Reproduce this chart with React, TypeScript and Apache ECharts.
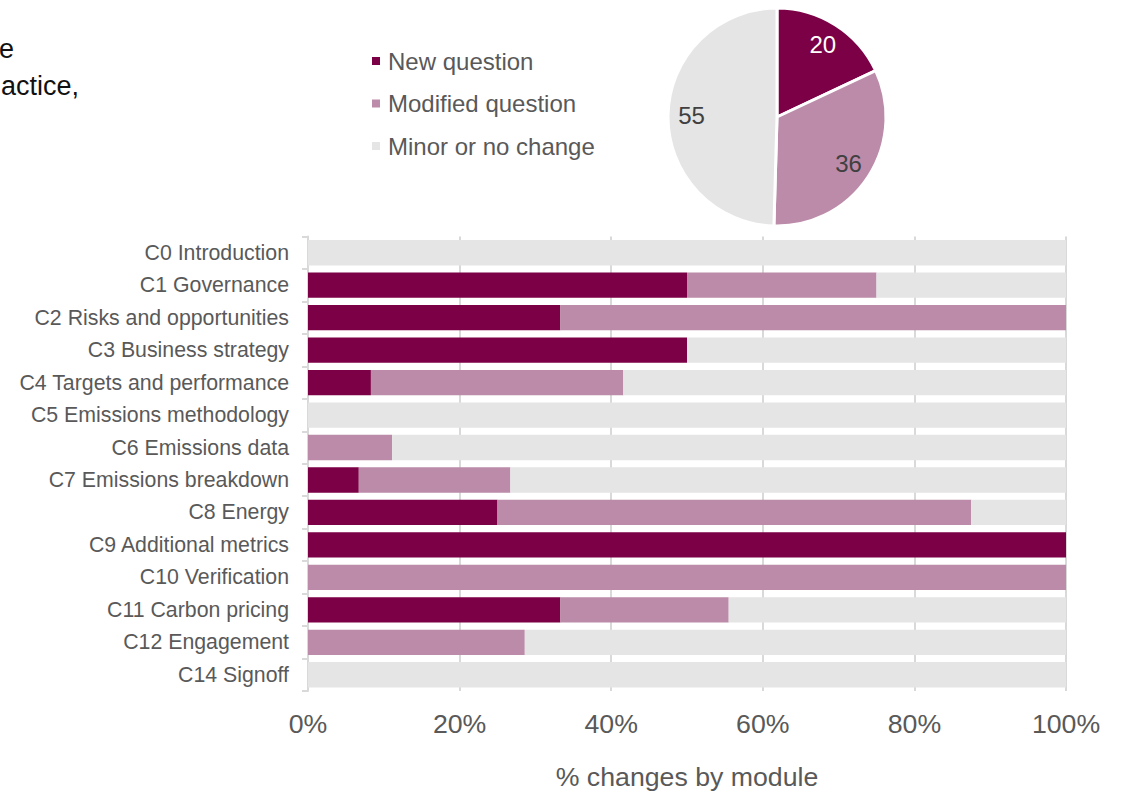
import React, { useEffect, useRef } from "react";
import * as echarts from "echarts";

const modules = [
  "C0 Introduction",
  "C1 Governance",
  "C2 Risks and opportunities",
  "C3 Business strategy",
  "C4 Targets and performance",
  "C5 Emissions methodology",
  "C6 Emissions data",
  "C7 Emissions breakdown",
  "C8 Energy",
  "C9 Additional metrics",
  "C10 Verification",
  "C11 Carbon pricing",
  "C12 Engagement",
  "C14 Signoff",
];
const newPct = [0, 50, 33.3, 50, 8.3, 0, 0, 6.7, 25, 100, 0, 33.3, 0, 0];
const modifiedPct = [0, 25, 66.7, 0, 33.3, 0, 11.1, 20, 62.5, 0, 100, 22.2, 28.6, 0];
const minorPct = [100, 25, 0, 50, 58.4, 100, 88.9, 73.3, 12.5, 0, 0, 44.5, 71.4, 100];

const seriesNames = ["New question", "Modified question", "Minor or no change"];
const pieCounts = [20, 36, 55];
const xTicks = [0, 20, 40, 60, 80, 100];

const colors = ["#7b0045", "#bb8ba9", "#e5e5e5"];
const pieLabelColors = ["#ffffff", "#404040", "#404040"];
const FONT = "'Liberation Sans', Arial, sans-serif";

export default function App() {
  const ref = useRef<HTMLDivElement>(null);
  useEffect(() => {
    if (!ref.current) return;
    const chart = echarts.init(ref.current, null, { renderer: "svg" });
    const barData = [newPct, modifiedPct, minorPct];
    chart.setOption({
      animation: false,
      textStyle: { fontFamily: FONT },
      legend: {
        orient: "vertical",
        left: 367,
        top: 44,
        icon: "rect",
        itemWidth: 8,
        itemHeight: 8,
        itemGap: 18.5,
        data: seriesNames,
        textStyle: { fontSize: 24, color: "#595959", fontFamily: FONT, padding: [0, 0, 0, 3] },
        selectedMode: false,
      },
      grid: { left: 308, width: 758, top: 236.5, height: 459, containLabel: false },
      xAxis: {
        type: "value",
        min: xTicks[0],
        max: xTicks[xTicks.length - 1],
        interval: 20,
        axisLine: { show: false },
        axisTick: { show: false },
        splitLine: { show: true, lineStyle: { color: "#d9d9d9", width: 2 } },
        axisLabel: {
          formatter: "{value}%",
          fontSize: 26.7,
          color: "#595959",
          margin: 19,
          fontFamily: FONT,
        },
        name: "% changes by module",
        nameLocation: "middle",
        nameGap: 72,
        nameTextStyle: { fontSize: 26.7, color: "#595959", fontFamily: FONT },
      },
      yAxis: {
        type: "category",
        data: modules,
        inverse: true,
        axisLine: { show: true, lineStyle: { color: "#d9d9d9", width: 2 } },
        axisTick: { show: true, length: 6, lineStyle: { color: "#d9d9d9", width: 2 } },
        axisLabel: { fontSize: 21.3, color: "#595959", margin: 19, fontFamily: FONT },
        splitLine: { show: false },
      },
      series: [
        ...seriesNames.map((name, i) => ({
          type: "bar",
          name,
          stack: "total",
          data: barData[i],
          barCategoryGap: "22%",
          itemStyle: { color: colors[i] },
          silent: true,
        })),
        {
          type: "pie",
          name: "pie",
          center: [777, 117],
          radius: [0, 109],
          startAngle: 90,
          clockwise: true,
          silent: true,
          label: { show: false },
          labelLine: { show: false },
          itemStyle: { borderColor: "#ffffff", borderWidth: 3 },
          data: pieCounts.map((v, i) => ({
            value: v,
            name: seriesNames[i],
            itemStyle: { color: colors[i] },
          })),
        },
        {
          type: "pie",
          name: "pieLabels",
          center: [777, 117],
          radius: [56, 109],
          startAngle: 90,
          clockwise: true,
          silent: true,
          labelLine: { show: false },
          itemStyle: { color: "transparent", borderWidth: 0 },
          label: {
            show: true,
            position: "inside",
            formatter: "{c}",
            fontSize: 24,
            fontFamily: FONT,
          },
          data: pieCounts.map((v, i) => ({
            value: v,
            name: seriesNames[i],
            itemStyle: { color: "transparent" },
            label: { color: pieLabelColors[i] },
          })),
        },
      ],
      graphic: [
        {
          type: "text",
          right: 1122 - 14,
          top: 35,
          style: { text: "e", fontSize: 27, fill: "#111111", fontFamily: FONT },
        },
        {
          type: "text",
          right: 1122 - 79,
          top: 72,
          style: { text: "actice,", fontSize: 27, fill: "#111111", fontFamily: FONT },
        },
      ],
    });
    return () => chart.dispose();
  }, []);
  return (
    <div
      ref={ref}
      style={{ position: "fixed", left: 0, top: 0, width: 1122, height: 795, background: "#fff" }}
    />
  );
}
